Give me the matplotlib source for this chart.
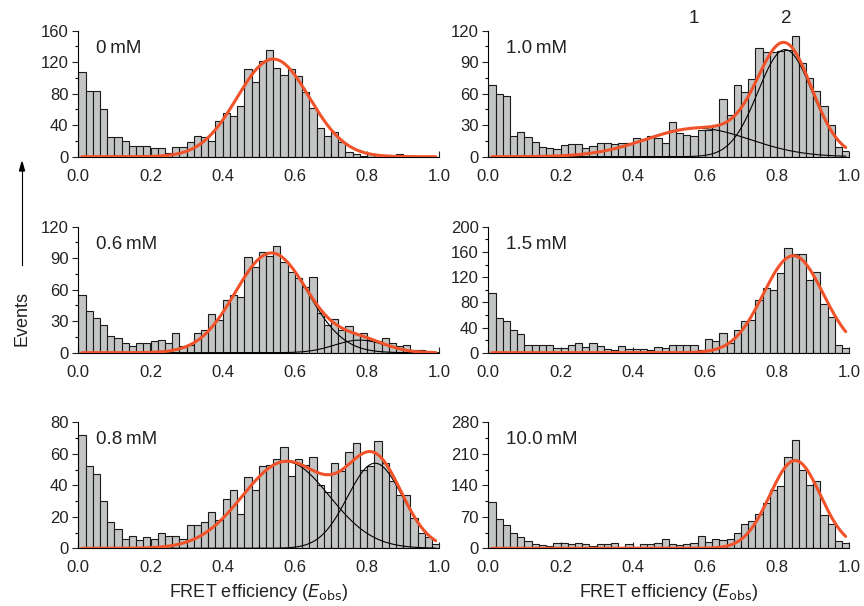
import numpy as np
import matplotlib.pyplot as plt

plt.rcParams['font.family'] = ['Liberation Sans', 'DejaVu Sans']

# bin edges of the FRET efficiency histograms
edges = np.linspace(0, 1, 51)

counts_0mM = [108, 83, 83, 60, 25, 25, 20, 14, 14, 13, 11, 11, 5, 12, 12, 19, 26, 25, 20, 45,
              55, 52, 65, 111, 95, 122, 135, 113, 104, 112, 102, 82, 62, 36, 26, 31, 19, 6, 3, 1,
              4, 2, 2, 0, 4, 0, 0, 0, 0, 0]
counts_06mM = [55, 40, 33, 26, 16, 14, 9, 6, 9, 9, 11, 12, 9, 19, 6, 7, 19, 22, 37, 31,
               50, 55, 53, 91, 82, 96, 92, 102, 86, 77, 71, 63, 72, 38, 26, 32, 22, 25, 18, 19,
               12, 11, 14, 9, 6, 7, 3, 2.5, 2, 1]
counts_08mM = [72, 52, 47, 30, 17, 12, 6, 8, 5, 7, 6, 10, 8, 8, 6, 15, 15, 17, 23, 18,
               31, 37, 22, 45, 37, 52, 53, 57, 64, 46, 57, 53, 58, 40, 36, 54, 49, 61, 67, 50,
               52, 68, 54, 43, 34, 34, 19, 10, 7, 3]
counts_10mM = [68, 60, 58, 20, 24, 19, 14, 9, 8, 7, 11, 12, 12, 8, 10, 13, 13, 12, 13, 13,
               18, 17, 20, 18, 13, 33, 23, 21, 20, 25, 25, 30, 55, 40, 68, 62, 74, 104, 100, 100,
               101, 102, 115, 89, 75, 63, 48, 30, 9, 5]
counts_15mM = [94, 55, 50, 36, 29, 13, 13, 13, 13, 7, 8, 12, 15, 9, 15, 11, 6, 4, 11, 6,
               6, 6, 4, 9, 7, 12, 13, 13, 13, 5, 22, 19, 32, 16, 36, 50, 52, 83, 103, 100,
               127, 166, 157, 157, 115, 128, 77, 56, 13, 8]
counts_100mM = [103, 66, 51, 35, 25, 17, 10, 7, 6, 11, 11, 10, 11, 10, 5, 9, 9, 11, 1, 10,
                4, 10, 10, 12, 20, 10, 7, 9, 11, 27, 15, 20, 18, 20, 33, 54, 61, 77, 100, 130,
                138, 203, 241, 173, 140, 150, 74, 53, 17, 11]

# gaussian fit components (amplitude, centre, width)
fit_0mM = [(124, 0.54, 0.10)]
fit_06mM = [(95, 0.535, 0.100), (12, 0.78, 0.07)]
fit_08mM = [(55, 0.575, 0.12), (54, 0.822, 0.076)]
fit_10mM = [(27, 0.58, 0.145), (102, 0.822, 0.075)]
fit_15mM = [(154, 0.845, 0.083)]
fit_100mM = [(195, 0.85, 0.07)]

panels = [
    ('0\u2009mM', counts_0mM, fit_0mM, 160, 40),
    ('1.0\u2009mM', counts_10mM, fit_10mM, 120, 30),
    ('0.6\u2009mM', counts_06mM, fit_06mM, 120, 30),
    ('1.5\u2009mM', counts_15mM, fit_15mM, 200, 40),
    ('0.8\u2009mM', counts_08mM, fit_08mM, 80, 20),
    ('10.0\u2009mM', counts_100mM, fit_100mM, 280, 70),
]

W, H = 864, 606
fig = plt.figure(figsize=(W / 100, H / 100), dpi=100)

col_x = [78.3, 488.3]
row_base = [156.7, 352.7, 548.3]
ax_w = 361.0
ax_h = 126.0

xs = np.linspace(0.01, 0.99, 300)


def gauss(x, a, m, s):
    return a * np.exp(-(x - m) ** 2 / (2 * s ** 2))


for i, (label, counts, fit, ymax, ystep) in enumerate(panels):
    r, c = divmod(i, 2)
    ax = fig.add_axes([col_x[c] / W, 1 - row_base[r] / H, ax_w / W, ax_h / H])
    ax.bar(edges[:-1], counts, width=0.02, align='edge', color='#c3c5c5',
           edgecolor='#1a1a1a', linewidth=0.8, zorder=1)
    total = np.zeros_like(xs)
    for a, m, s in fit:
        g = gauss(xs, a, m, s)
        total += g
        if len(fit) > 1:
            ax.plot(xs, g, color='black', lw=0.8, zorder=2)
    ax.plot(xs, total, color='#f0522a', lw=2.2, zorder=3, solid_capstyle='round')

    ax.set_xlim(0, 1.0)
    ax.set_ylim(0, ymax)
    ax.set_xticks(np.arange(0, 1.01, 0.2))
    ax.set_xticks(np.arange(0.1, 1.0, 0.2), minor=True)
    ax.set_xticklabels(['%.1f' % v for v in np.arange(0, 1.01, 0.2)])
    ax.set_yticks(np.arange(0, ymax + 1, ystep))
    ax.set_yticks(np.arange(ystep / 2, ymax, ystep), minor=True)
    for sp in ['top', 'right']:
        ax.spines[sp].set_visible(False)
    ax.spines['left'].set_linewidth(0.8)
    ax.spines['bottom'].set_linewidth(0.8)
    ax.tick_params(axis='both', which='major', labelsize=12, length=4, width=0.8,
                   colors='#222222', pad=3)
    ax.tick_params(axis='both', which='minor', length=2.5, width=0.8)
    ax.tick_params(axis='x', which='both', direction='in')
    ax.tick_params(axis='x', which='major', pad=8.5)
    ax.text(0.05, 0.86, label, transform=ax.transAxes, fontsize=13.5,
            ha='left', va='center', color='#222222')
    if label == '1.0\u2009mM':
        ax.text(0.57, 1.1, '1', transform=ax.transAxes, fontsize=13.5, ha='center',
                va='center', color='#222222')
        ax.text(0.825, 1.1, '2', transform=ax.transAxes, fontsize=13.5, ha='center',
                va='center', color='#222222')
    if r == 2:
        ax.set_xlabel('FRET efficiency ($\\it{E}$$_{\\rm obs}$)', fontsize=13, labelpad=5,
                      color='#222222')

fig.text(22 / W, 1 - 318 / H, 'Events', rotation=90, fontsize=13, ha='center', va='center',
         color='#222222')
fig.add_artist(plt.Line2D([22 / W, 22 / W], [1 - 265 / H, 1 - 170 / H], color='black', lw=0.8))
fig.patches.append(plt.Polygon([[22 / W, 1 - 162 / H], [19.5 / W, 1 - 171 / H], [24.5 / W, 1 - 171 / H]],
                               closed=True, color='black', transform=fig.transFigure))

fig.savefig('out.png', dpi=100)
